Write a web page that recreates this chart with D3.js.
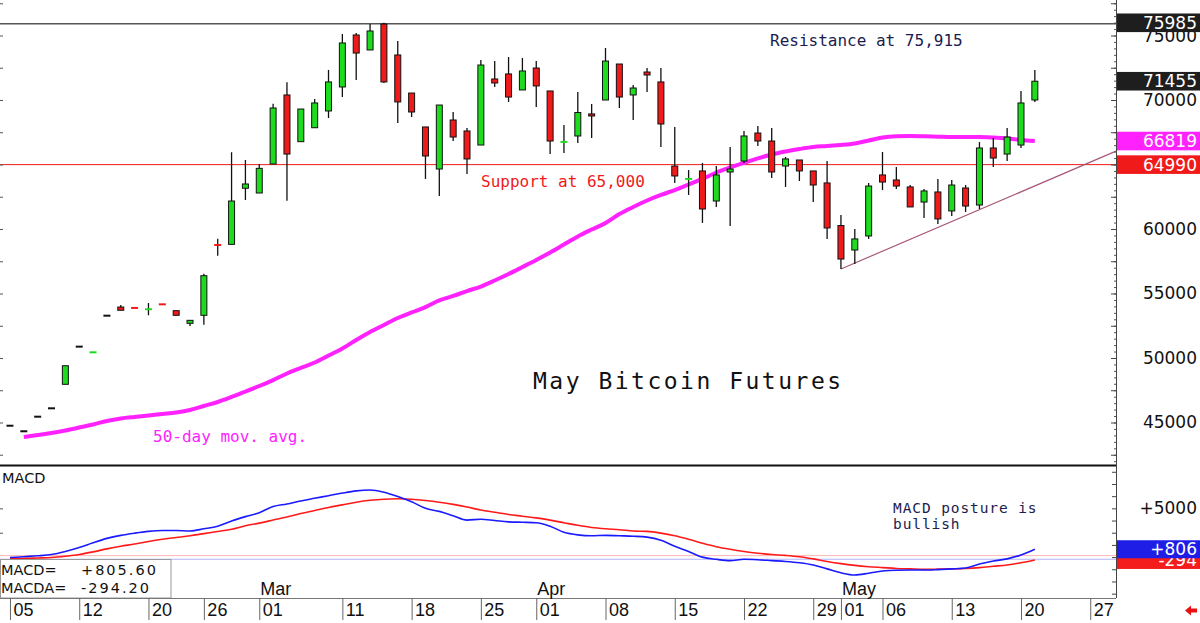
<!DOCTYPE html>
<html lang="en">
<head>
<meta charset="UTF-8">
<title>May Bitcoin Futures</title>
<style>
  body{margin:0;background:#fff;}
  svg{display:block;}
  .ax text{font-family:"DejaVu Sans",sans-serif;}
</style>
</head>
<body>
<svg width="1200" height="623"></svg>
<script src="https://cdn.jsdelivr.net/npm/d3@7"></script>
<script>
// trading days (MM-DD, 2024), incl. a few future days on the axis
var dates = ["02-05","02-06","02-07","02-08","02-09","02-12","02-13","02-14","02-15","02-16",
  "02-20","02-21","02-22","02-23","02-26","02-27","02-28","02-29",
  "03-01","03-04","03-05","03-06","03-07","03-08","03-11","03-12","03-13","03-14","03-15",
  "03-18","03-19","03-20","03-21","03-22","03-25","03-26","03-27","03-28",
  "04-01","04-02","04-03","04-04","04-05","04-08","04-09","04-10","04-11","04-12",
  "04-15","04-16","04-17","04-18","04-19","04-22","04-23","04-24","04-25","04-26","04-29","04-30",
  "05-01","05-02","05-03","05-06","05-07","05-08","05-09","05-10","05-13","05-14","05-15","05-16","05-17",
  "05-20","05-21","05-22","05-23","05-24","05-27","05-28"];

var open  = [44750,44320,45450,46100,47960,50880,50430,53280,53950,53890,53770,54170,53670,52690,53310,58770,58810,63160,62790,65040,
             70390,66770,67850,69150,71010,75040,73880,75890,73490,70540,67910,64650,68450,67600,66510,71630,72020,70780,72480,70700,
             66740,67210,68920,70000,72790,70390,72170,71400,64880,63870,64500,62170,64420,65270,67440,66820,64880,65350,64500,63570,
             60270,58370,59460,64190,63800,63260,62090,62870,61400,63180,61860,66280,65810,66510,70000];
var high  = [44750,44320,45450,46100,49400,50880,50440,53280,54110,53890,54260,54170,53670,52920,56540,59250,65950,65350,65040,69710,
             71370,69300,70080,72330,75120,75190,75890,75985,74570,70540,67910,69610,69070,67830,73100,73020,73330,73260,73020,70700,
             68060,70620,69690,74030,72790,71160,72480,72480,67910,64570,65120,64880,66360,67600,67980,67830,65580,65350,64500,65270,
             61090,60000,63570,65970,64810,63410,63100,63880,63800,63410,66740,67050,67830,70700,72330];
var low   = [44750,44320,45450,46100,47960,50880,50430,53280,53700,53880,53310,54160,53310,52480,52580,57930,58810,62250,62790,65040,
             62190,66770,67850,68600,70230,71550,73880,71320,68220,68680,63880,62560,66820,64260,66510,71010,69850,70780,69460,65810,
             65890,66670,67050,70000,69380,68450,70620,66360,63570,62640,60470,61710,60230,65120,66430,63950,63260,63720,62090,59230,
             56900,57290,59230,63020,63100,61710,60850,60390,61010,61320,61550,64810,65270,66280,69850];
var close = [44750,44320,45450,46100,49400,50880,50440,53280,53700,53880,53780,54160,53310,52920,56380,58760,62170,63490,64700,69380,
             65810,69300,69770,71400,74420,73640,75350,71400,69850,69070,65660,69610,67130,65430,72710,71320,70230,72250,71090,66820,
             66750,69030,68760,73020,70230,70930,71940,68140,64110,63880,61550,64190,64650,67210,66820,64420,65430,64500,63410,60080,
             57670,59230,63330,63640,63330,61710,62950,60780,63410,61780,66280,65500,67130,69770,71455];

var ma50  = [null,43880,44030,44190,44380,44610,44850,45120,45310,45430,45540,45660,45780,45970,46280,46590,46980,47400,47830,48290,
             48800,49230,49650,50190,50740,51400,52020,52560,53100,53530,53950,54460,54810,55190,55540,56010,56510,57050,57600,58180,
             58800,59420,59960,60470,61160,61710,62210,62640,63020,63450,63880,64380,64770,65120,65470,65780,66010,66200,66360,66430,
             66510,66630,66860,67090,67190,67210,67190,67160,67130,67130,67130,67090,67020,66900,66819];

var macd   = [-47,43,131,266,579,981,1472,1919,2232,2455,2634,2723,2723,2678,2902,3170,3706,4153,4555,5181,
              5449,5762,6029,6298,6566,6789,6879,6655,6208,5672,5002,4689,4242,3796,3885,3751,3617,3572,3528,3170,
              2545,2276,2187,2232,2187,2142,2053,1740,1114,579,-2,-226,-360,-226,-271,-360,-449,-583,-807,-1209,
              -1611,-1835,-1656,-1432,-1343,-1325,-1325,-1280,-1209,-1119,-717,-405,-181,221,805.6];
var signal = [-136,-136,-92,-47,87,266,534,847,1114,1338,1606,1830,2009,2187,2411,2634,2857,3215,3483,3796,
              4108,4466,4779,5091,5360,5627,5824,5941,5985,5941,5806,5627,5404,5136,4823,4600,4377,4198,4019,3796,
              3528,3259,3036,2902,2813,2678,2634,2455,2187,1830,1428,1070,802,579,400,266,176,43,-181,-449,
              -673,-852,-985,-1075,-1164,-1209,-1254,-1235,-1209,-1164,-1075,-940,-807,-583,-294.2];

var tickDates   = ["02-05","02-12","02-20","02-26","03-01","03-11","03-18","03-25","04-01","04-08",
                   "04-15","04-22","04-29","05-01","05-06","05-13","05-20","05-27"];
var monthStarts = ["03-01","04-01","05-01"];
var monthNames  = ["Mar","Apr","May"];

var supportLevel = 64990, resistanceLevel = 75915;
var trendAnchors = [[60, 56900], [70, 61500]];   // [day index, price]
var macdGuides = [150, -220];

var svg = d3.select("svg");
var plotR = 1116, pBottom = 465, mTop = 466, mBottom = 598;
var green = "#1ddc1d", red = "#f01a1a", magenta = "#ff22ff";

var x  = d3.scaleLinear().domain([-0.72, 79.86]).range([0, plotR]);
var yP = d3.scaleLinear().domain([41705, 77752]).range([pBottom, 0]);
var yM = d3.scaleLinear().domain([-4195, 9344]).range([mBottom, mTop]);
var fixMinus = function(s){ return s.replace("\u2212", "-"); };

// ---- price panel guides
svg.append("line").attr("x1",0).attr("x2",plotR).attr("y1",yP(resistanceLevel)).attr("y2",yP(resistanceLevel))
   .attr("stroke","#555").attr("stroke-width",1.5);
svg.append("line").attr("x1",0).attr("x2",plotR).attr("y1",yP(supportLevel)).attr("y2",yP(supportLevel))
   .attr("stroke",red).attr("stroke-width",1);

var tSlope = (trendAnchors[1][1]-trendAnchors[0][1])/(trendAnchors[1][0]-trendAnchors[0][0]);
var tEnd = x.domain()[1];
svg.append("line")
   .attr("x1",x(trendAnchors[0][0])).attr("y1",yP(trendAnchors[0][1]))
   .attr("x2",x(tEnd)).attr("y2",yP(trendAnchors[0][1] + tSlope*(tEnd-trendAnchors[0][0])))
   .attr("stroke","#a8587a").attr("stroke-width",1.2);

// 50 day moving average
var maLine = d3.line().defined(function(d){return d!=null;})
   .x(function(d,i){return x(i);}).y(function(d){return yP(d);}).curve(d3.curveMonotoneX);
svg.append("path").attr("d",maLine(ma50)).attr("fill","none").attr("stroke",magenta).attr("stroke-width",4);

// candles
var candles = close.map(function(c,i){ return {i:i,o:open[i],h:high[i],l:low[i],c:c}; });
var cg = svg.append("g");
cg.selectAll(".wick").data(candles.filter(function(d){return d.h>d.l;})).enter().append("line")
  .attr("x1",function(d){return x(d.i);}).attr("x2",function(d){return x(d.i);})
  .attr("y1",function(d){return yP(d.h);}).attr("y2",function(d){return yP(d.l);})
  .attr("stroke","#111").attr("stroke-width",1.3);
var isDash = function(d){ return Math.abs(yP(d.o)-yP(d.c)) < 1; };
cg.selectAll(".body").data(candles.filter(function(d){return !isDash(d);})).enter().append("rect")
  .attr("x",function(d){return x(d.i)-3;}).attr("width",6)
  .attr("y",function(d){return yP(Math.max(d.o,d.c));})
  .attr("height",function(d){return Math.abs(yP(d.o)-yP(d.c));})
  .attr("fill",function(d){return d.c>d.o?green:red;})
  .attr("stroke","#111").attr("stroke-width",1);
cg.selectAll(".dash").data(candles.filter(isDash)).enter().append("line")
  .attr("x1",function(d){return x(d.i)-3.5;}).attr("x2",function(d){return x(d.i)+3.5;})
  .attr("y1",function(d){return yP(d.c);}).attr("y2",function(d){return yP(d.c);})
  .attr("stroke",function(d){return d.c>d.o?green:(d.c<d.o?red:"#111");})
  .attr("stroke-width",2);

// annotations
var mono = "'DejaVu Sans Mono',monospace";
svg.append("text").attr("x",770).attr("y",45.5).text("Resistance at 75,915")
   .attr("font-family",mono).attr("font-size",16).attr("fill","#1c1c50");
svg.append("text").attr("x",481).attr("y",187).text("Support at 65,000")
   .attr("font-family",mono).attr("font-size",16).attr("fill",red);
svg.append("text").attr("x",153).attr("y",442).text("50-day mov. avg.")
   .attr("font-family",mono).attr("font-size",16).attr("fill",magenta);
svg.append("text").attr("x",533).attr("y",388.5).text("May Bitcoin Futures")
   .attr("font-family",mono).attr("font-size",23).attr("letter-spacing",2.5).attr("fill","#111");

// panel frames
svg.append("line").attr("x1",0).attr("x2",plotR).attr("y1",pBottom+0.5).attr("y2",pBottom+0.5)
   .attr("stroke","#111").attr("stroke-width",2);
svg.append("line").attr("x1",plotR+0.5).attr("x2",plotR+0.5).attr("y1",0).attr("y2",mBottom)
   .attr("stroke","#444").attr("stroke-width",1);

// price axes
svg.append("g").attr("class","ax").attr("transform","translate("+plotR+",0)")
   .call(d3.axisLeft(yP).tickValues(d3.range(42000,77501,500)).tickSize(2).tickFormat(""))
   .call(function(g){g.select(".domain").remove(); g.selectAll("line").attr("stroke","#555");});
svg.append("g").attr("class","ax").attr("transform","translate("+plotR+",0)")
   .call(d3.axisLeft(yP).tickValues(d3.range(42500,77501,2500)).tickSize(5).tickFormat(""))
   .call(function(g){g.select(".domain").remove(); g.selectAll("line").attr("stroke","#444");});
svg.append("g").attr("class","ax")
   .call(d3.axisRight(yP).tickValues(d3.range(42500,77501,2500)).tickSize(3).tickFormat(""))
   .call(function(g){g.select(".domain").remove(); g.selectAll("line").attr("stroke","#555");});
svg.append("g").selectAll("text").data(d3.range(45000,75001,5000)).enter().append("text")
   .attr("x",1197).attr("y",function(d){return yP(d)+6;}).attr("text-anchor","end")
   .attr("font-family","'DejaVu Sans',sans-serif").attr("font-size",17).attr("fill","#111")
   .text(function(d){return d;});

// price marker boxes
var markers = [
  {v:d3.max(high), bg:"#1e1e1e"},
  {v:close[close.length-1], bg:"#1e1e1e"},
  {v:ma50[ma50.length-1], bg:magenta},
  {v:supportLevel, bg:red}
];
var mk = svg.append("g").selectAll("g").data(markers).enter().append("g")
   .attr("transform",function(d){return "translate(0,"+yP(d.v)+")";});
mk.append("rect").attr("x",plotR+1).attr("y",-9.3).attr("width",1200-plotR-1).attr("height",18.6)
   .attr("fill",function(d){return d.bg;});
mk.append("text").attr("x",1197).attr("y",6).attr("text-anchor","end")
   .attr("font-family","'DejaVu Sans',sans-serif").attr("font-size",17).attr("fill","#fff")
   .text(function(d){return d.v;});

// ---- MACD panel
svg.append("text").attr("x",2).attr("y",483).text("MACD")
   .attr("font-family","'DejaVu Sans',sans-serif").attr("font-size",14.5).attr("fill","#111");
svg.append("g").selectAll("line").data(macdGuides).enter().append("line")
   .attr("x1",0).attr("x2",plotR).attr("y1",function(d){return yM(d);}).attr("y2",function(d){return yM(d);})
   .attr("stroke",function(d,i){return i==0?"#ffb4b4":"#b4b4ff";}).attr("stroke-width",1);

var mLine = d3.line().x(function(d,i){return x(i);}).y(function(d){return yM(d);}).curve(d3.curveMonotoneX);
svg.append("path").attr("d",mLine(signal)).attr("fill","none").attr("stroke","#ff1a1a").attr("stroke-width",1.6);
svg.append("path").attr("d",mLine(macd)).attr("fill","none").attr("stroke","#1a1aff").attr("stroke-width",1.6);

svg.append("g").attr("class","ax").attr("transform","translate("+plotR+",0)")
   .call(d3.axisLeft(yM).tickValues(d3.range(-3750,9000,1250)).tickSize(4).tickFormat(""))
   .call(function(g){g.select(".domain").remove(); g.selectAll("line").attr("stroke","#444");});
svg.append("g").attr("class","ax")
   .call(d3.axisRight(yM).tickValues([2500,5000]).tickSize(3).tickFormat(""))
   .call(function(g){g.select(".domain").remove(); g.selectAll("line").attr("stroke","#555");});
svg.append("text").attr("x",1197).attr("y",yM(5000)+6).attr("text-anchor","end")
   .attr("font-family","'DejaVu Sans',sans-serif").attr("font-size",17).attr("fill","#111").text("+5000");

["MACD posture is","bullish"].forEach(function(t,i){
  svg.append("text").attr("x",893).attr("y",513+i*16).text(t)
     .attr("font-family",mono).attr("font-size",14.5).attr("letter-spacing",0.9).attr("fill","#1c1c50");
});

var lastMacd = macd[macd.length-1], lastSig = signal[signal.length-1];
var mBoxes = [{v:lastSig, bg:"#f41c1c"},{v:lastMacd, bg:"#1e1ee6"}];
var mb = svg.append("g").selectAll("g").data(mBoxes).enter().append("g")
   .attr("transform",function(d){return "translate(0,"+yM(d.v)+")";});
mb.append("rect").attr("x",plotR+1).attr("y",-9).attr("width",1200-plotR-1).attr("height",18)
   .attr("fill",function(d){return d.bg;});
mb.append("text").attr("x",1197).attr("y",6).attr("text-anchor","end")
   .attr("font-family","'DejaVu Sans',sans-serif").attr("font-size",17).attr("fill","#fff")
   .text(function(d){return fixMinus(d3.format("+d")(Math.round(d.v)));});

// readout box
var rb = svg.append("g");
rb.append("rect").attr("x",0.5).attr("y",559.5).attr("width",170.5).attr("height",38.5)
  .attr("fill","#fff").attr("stroke","#999");
[["MACD=",lastMacd,575],["MACDA=",lastSig,593]].forEach(function(r){
  rb.append("text").attr("x",1).attr("y",r[2]).text(r[0])
    .attr("font-family","'DejaVu Sans',sans-serif").attr("font-size",14.5).attr("fill","#111");
  rb.append("text").attr("x",81).attr("y",r[2]).text(fixMinus(d3.format("+.2f")(r[1])))
    .attr("font-family","'DejaVu Sans',sans-serif").attr("font-size",14.5).attr("letter-spacing",2).attr("fill","#111");
});

// ---- date axis
var narrow = "'Liberation Sans Narrow','Liberation Sans',sans-serif";
svg.append("g").attr("transform","translate(0,"+mBottom+")")
   .call(d3.axisBottom(x).tickValues(tickDates.map(function(d){return dates.indexOf(d);}))
         .tickSize(22).tickFormat(function(i){return dates[i].slice(3);}))
   .call(function(g){
      g.select(".domain").attr("d","M0,0.5H"+plotR).attr("stroke","#777");
      g.selectAll(".tick line").attr("stroke","#666");
      g.selectAll(".tick text").attr("x",3).attr("y",18).attr("dy",0).attr("text-anchor","start")
       .attr("font-family",narrow).attr("font-size",18).attr("fill","#111");
   });
svg.append("g").selectAll("text").data(monthStarts).enter().append("text")
   .attr("x",function(d){return x(dates.indexOf(d))+1;}).attr("y",595)
   .attr("font-family",narrow).attr("font-size",18).attr("fill","#111")
   .text(function(d,i){return monthNames[i];});

// little red arrow at the bottom right
svg.append("path").attr("d","M1185,610.5L1191,605.5V608.5H1197V612.5H1191V615.5Z").attr("fill","#e81010");
</script>
</body>
</html>
